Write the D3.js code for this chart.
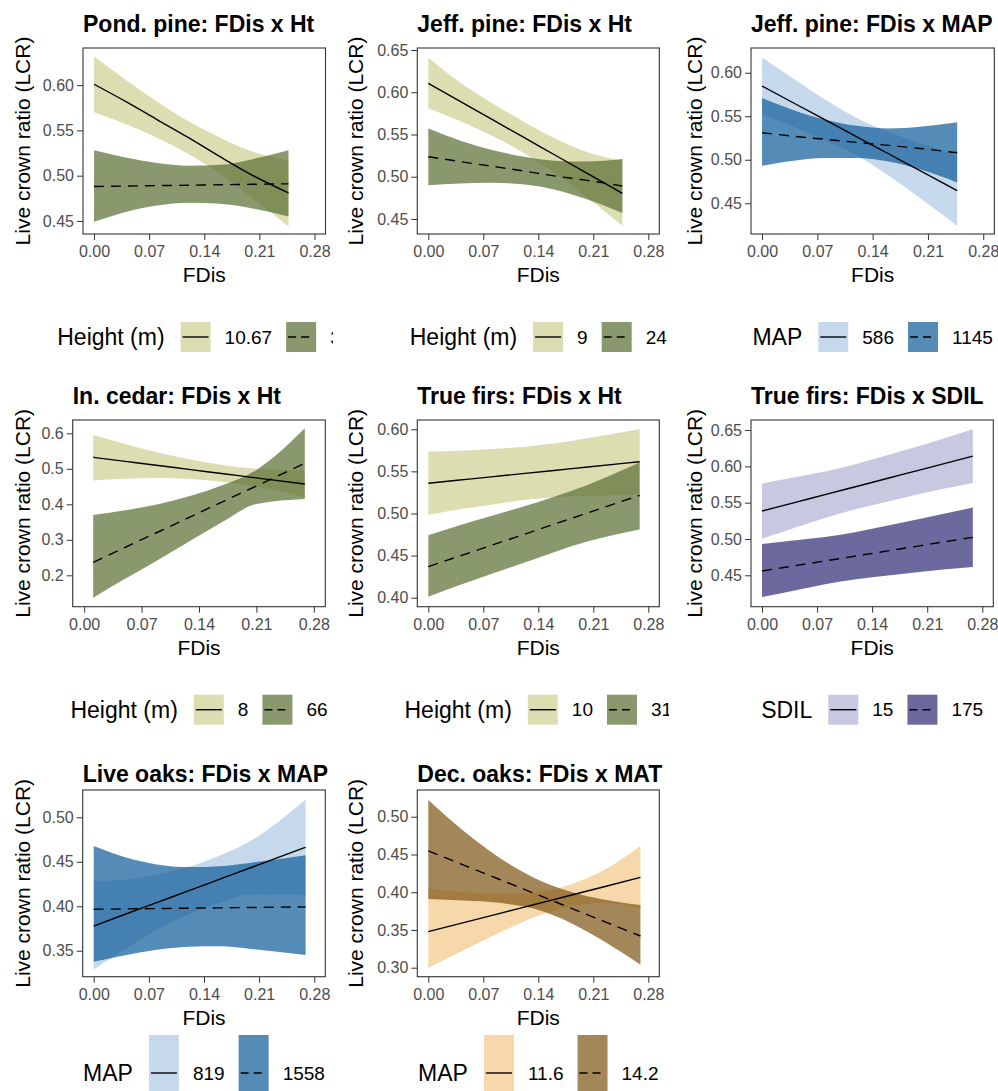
<!DOCTYPE html>
<meta charset="utf-8">
<style>
body { margin: 0; background: #fff; }
text { font-family: "Liberation Sans", Arial, sans-serif; }
.title { font-size: 23px; font-weight: bold; fill: #000; }
.axis-title { font-size: 21px; fill: #000; }
.axis text { font-size: 16px; fill: #4d4d4d; font-family: "Liberation Sans", Arial, sans-serif; }
.axis line { stroke: #333; stroke-width: 1; }
.axis path { display: none; }
.frame { fill: none; stroke: #333; stroke-width: 1.1; }
.fit { fill: none; stroke: #000; stroke-width: 1.4; }
.legend-title { font-size: 23px; fill: #000; }
.legend-label { font-size: 19px; fill: #000; }
</style>
<body>
<script src="https://d3js.org/d3.v7.min.js"></script>
<script>

// ---- data ----
var titles = ["Pond. pine: FDis x Ht", "Jeff. pine: FDis x Ht", "Jeff. pine: FDis x MAP",
              "In. cedar: FDis x Ht", "True firs: FDis x Ht", "True firs: FDis x SDIL",
              "Live oaks: FDis x MAP", "Dec. oaks: FDis x MAT"];
var legendTitles = ["Height (m)", "Height (m)", "MAP", "Height (m)", "Height (m)", "SDIL", "MAP", "MAP"];
var legendLevels = [["10.67", "31"], ["9", "24"], ["586", "1145"], ["8", "66"],
                    ["10", "31"], ["15", "175"], ["819", "1558"], ["11.6", "14.2"]];
var xTicks = [0, 0.07, 0.14, 0.21, 0.28];

// Pond. pine
var pondX    = [0, 0.04, 0.08, 0.12, 0.16, 0.20, 0.247];
var pondFit1 = [0.601, 0.582, 0.562, 0.542, 0.521, 0.501, 0.481];
var pondLo1  = [0.570, 0.557, 0.542, 0.524, 0.502, 0.476, 0.444];
var pondHi1  = [0.632, 0.606, 0.582, 0.560, 0.542, 0.527, 0.516];
var pondFit2 = [0.488, 0.4885, 0.489, 0.4895, 0.490, 0.4905, 0.491];
var pondLo2  = [0.449, 0.460, 0.467, 0.470, 0.469, 0.464, 0.455];
var pondHi2  = [0.528, 0.520, 0.514, 0.511, 0.512, 0.518, 0.528];

// Jeff. pine x Ht
var jhtX    = [0, 0.04, 0.08, 0.12, 0.16, 0.20, 0.247];
var jhtFit1 = [0.6106, 0.5895, 0.5684, 0.5474, 0.5263, 0.5052, 0.4804];
var jhtLo1  = [0.581, 0.566, 0.549, 0.529, 0.505, 0.477, 0.442];
var jhtHi1  = [0.641, 0.612, 0.588, 0.566, 0.546, 0.530, 0.519];
var jhtFit2 = [0.5237, 0.518, 0.5125, 0.507, 0.501, 0.496, 0.489];
var jhtLo2  = [0.490, 0.492, 0.493, 0.491, 0.485, 0.474, 0.457];
var jhtHi2  = [0.557, 0.543, 0.532, 0.524, 0.519, 0.518, 0.521];

// Jeff. pine x MAP
var jmapX    = [0, 0.04, 0.08, 0.12, 0.16, 0.20, 0.247];
var jmapFit1 = [0.5847, 0.5652, 0.5458, 0.5264, 0.5069, 0.4875, 0.4646];
var jmapLo1  = [0.552, 0.538, 0.522, 0.505, 0.482, 0.456, 0.424];
var jmapHi1  = [0.6176, 0.593, 0.569, 0.548, 0.532, 0.519, 0.505];
var jmapFit2 = [0.531, 0.527, 0.5235, 0.520, 0.5165, 0.513, 0.508];
var jmapLo2  = [0.493, 0.499, 0.502, 0.502, 0.498, 0.489, 0.474];
var jmapHi2  = [0.571, 0.557, 0.546, 0.539, 0.536, 0.538, 0.543];

// In. cedar
var cedarX    = [0.011, 0.05, 0.09, 0.13, 0.17, 0.21, 0.269];
var cedarFit1 = [0.5324, 0.521, 0.5094, 0.4977, 0.4861, 0.4744, 0.4572];
var cedarLo1  = [0.467, 0.472, 0.474, 0.471, 0.463, 0.450, 0.420];
var cedarHi1  = [0.595, 0.570, 0.546, 0.526, 0.510, 0.500, 0.495];
var cedarFit2 = [0.2366, 0.279, 0.322, 0.3653, 0.4085, 0.4518, 0.5155];
var cedarLo2  = [0.137, 0.190, 0.243, 0.298, 0.352, 0.401, 0.415];
var cedarHi2  = [0.370, 0.383, 0.400, 0.424, 0.455, 0.497, 0.614];

// True firs x Ht
var firHtX    = [0, 0.04, 0.08, 0.12, 0.16, 0.20, 0.269];
var firHtFit1 = [0.5359, 0.5397, 0.5435, 0.5473, 0.5511, 0.5549, 0.5615];
var firHtLo1  = [0.4983, 0.5049, 0.5105, 0.5156, 0.5192, 0.5208, 0.5226];
var firHtHi1  = [0.5735, 0.5745, 0.5765, 0.579, 0.583, 0.589, 0.6004];
var firHtFit2 = [0.4369, 0.4495, 0.4621, 0.4746, 0.4872, 0.4998, 0.5215];
var firHtLo2  = [0.401, 0.415, 0.428, 0.441, 0.454, 0.466, 0.481];
var firHtHi2  = [0.474, 0.486, 0.497, 0.508, 0.520, 0.533, 0.5605];

// True firs x SDIL
var sdilX    = [0, 0.04, 0.08, 0.12, 0.16, 0.20, 0.268];
var sdilFit1 = [0.5385, 0.5498, 0.561, 0.5723, 0.5836, 0.5949, 0.6141];
var sdilLo1  = [0.5005, 0.5148, 0.529, 0.5413, 0.5516, 0.5619, 0.5771];
var sdilHi1  = [0.5765, 0.5848, 0.593, 0.6033, 0.6156, 0.6279, 0.6511];
var sdilFit2 = [0.456, 0.4629, 0.4698, 0.4767, 0.4836, 0.4906, 0.5023];
var sdilLo2  = [0.420, 0.4289, 0.4378, 0.4447, 0.4496, 0.4546, 0.4613];
var sdilHi2  = [0.493, 0.4979, 0.5028, 0.5097, 0.5186, 0.5276, 0.5433];

// Live oaks x MAP
var liveX    = [0, 0.04, 0.08, 0.12, 0.16, 0.20, 0.269];
var liveFit1 = [0.3778, 0.391, 0.4041, 0.4173, 0.4304, 0.4436, 0.4663];
var liveLo1  = [0.3290, 0.352, 0.3732, 0.3906, 0.4038, 0.4132, 0.4126];
var liveHi1  = [0.428, 0.430, 0.435, 0.444, 0.457, 0.474, 0.520];
var liveFit2 = [0.3966, 0.397, 0.3974, 0.3978, 0.3982, 0.3986, 0.3993];
var liveLo2  = [0.3376, 0.345, 0.351, 0.3545, 0.355, 0.352, 0.3453];
var liveHi2  = [0.4677, 0.455, 0.447, 0.444, 0.445, 0.449, 0.4573];

// Dec. oaks x MAT
var decX    = [0, 0.045, 0.09, 0.135, 0.18, 0.225, 0.27];
var decFit1 = [0.3478, 0.3598, 0.3717, 0.3837, 0.3957, 0.4076, 0.4196];
var decLo1  = [0.2995, 0.323, 0.346, 0.367, 0.381, 0.386, 0.378];
var decHi1  = [0.4045, 0.400, 0.398, 0.400, 0.410, 0.430, 0.4616];
var decFit2 = [0.4548, 0.436, 0.4172, 0.3984, 0.3796, 0.3608, 0.342];
var decLo2  = [0.391, 0.389, 0.386, 0.378, 0.360, 0.334, 0.304];
var decHi2  = [0.522, 0.481, 0.446, 0.419, 0.401, 0.390, 0.383];

// y axis ticks per panel
var yTicks = [[0.45, 0.50, 0.55, 0.60], [0.45, 0.50, 0.55, 0.60, 0.65], [0.45, 0.50, 0.55, 0.60],
              [0.2, 0.3, 0.4, 0.5, 0.6], [0.40, 0.45, 0.50, 0.55, 0.60], [0.45, 0.50, 0.55, 0.60, 0.65],
              [0.35, 0.40, 0.45, 0.50], [0.30, 0.35, 0.40, 0.45, 0.50]];
var yLimits = [[0.4356, 0.641], [0.4322, 0.6524], [0.4147, 0.6284], [0.1116, 0.6375],
               [0.3893, 0.611], [0.4068, 0.6638], [0.3208, 0.5307], [0.2881, 0.5354]];

// ---- colours ----
var htColors   = ["#cdd091", "#586c30"];
var mapColors  = ["#aec9e4", "#0d5a98"];
var sdilColors = ["#b0b0d4", "#2d2a75"];
var matColors  = ["#f2c786", "#7e5413"];
var fillAlpha = 0.7;

// ---- layout ----
var W = 998, H = 1091;
var cols = [[0, 333], [333, 669], [669, 998]];
var rows = [
  {top: 48,  bottom: 234,   titleY: 32,  keyTop: 322,   keyH: 30, keyMid: 337},
  {top: 420, bottom: 606.7, titleY: 404, keyTop: 694.7, keyH: 30, keyMid: 709.7},
  {top: 790, bottom: 976.7, titleY: 782, keyTop: 1035,  keyH: 78, keyMid: 1073}
];
var boxLeft  = [83, 417.3, 751, 72.7, 417.3, 751, 82.7, 417.3];
var boxRight = [325.5, 659.3, 994.3, 325.3, 659.3, 993.3, 325.3, 659.3];
var yTitleX  = [30, 363.3, 701.5];

var panels = [
  {xs: pondX,  fit: [pondFit1, pondFit2],   lo: [pondLo1, pondLo2],   hi: [pondHi1, pondHi2],   colors: htColors},
  {xs: jhtX,   fit: [jhtFit1, jhtFit2],     lo: [jhtLo1, jhtLo2],     hi: [jhtHi1, jhtHi2],     colors: htColors},
  {xs: jmapX,  fit: [jmapFit1, jmapFit2],   lo: [jmapLo1, jmapLo2],   hi: [jmapHi1, jmapHi2],   colors: mapColors},
  {xs: cedarX, fit: [cedarFit1, cedarFit2], lo: [cedarLo1, cedarLo2], hi: [cedarHi1, cedarHi2], colors: htColors},
  {xs: firHtX, fit: [firHtFit1, firHtFit2], lo: [firHtLo1, firHtLo2], hi: [firHtHi1, firHtHi2], colors: htColors},
  {xs: sdilX,  fit: [sdilFit1, sdilFit2],   lo: [sdilLo1, sdilLo2],   hi: [sdilHi1, sdilHi2],   colors: sdilColors},
  {xs: liveX,  fit: [liveFit1, liveFit2],   lo: [liveLo1, liveLo2],   hi: [liveHi1, liveHi2],   colors: mapColors},
  {xs: decX,   fit: [decFit1, decFit2],     lo: [decLo1, decLo2],     hi: [decHi1, decHi2],     colors: matColors}
];

var dashes = ["none", "10,7"];

var svg = d3.select("body").append("svg")
    .attr("width", W)
    .attr("height", H);

var defs = svg.append("defs");
cols.forEach(function(c, i) {
  defs.append("clipPath").attr("id", "col" + i)
    .append("rect").attr("x", c[0]).attr("y", 0).attr("width", c[1] - c[0]).attr("height", H);
});

panels.forEach(function(p, i) {
  var row = rows[Math.floor(i / 3)], col = i % 3;
  var g = svg.append("g").attr("clip-path", "url(#col" + col + ")");

  var x = d3.scaleLinear().domain([-0.014, 0.294]).range([boxLeft[i], boxRight[i]]);
  var y = d3.scaleLinear().domain(yLimits[i]).range([row.bottom, row.top]);

  // one record per level
  var series = [0, 1].map(function(k) {
    return p.xs.map(function(v, j) {
      return {x: v, fit: p.fit[k][j], lo: p.lo[k][j], hi: p.hi[k][j]};
    });
  });

  var area = d3.area()
      .x(function(d) { return x(d.x); })
      .y0(function(d) { return y(d.lo); })
      .y1(function(d) { return y(d.hi); })
      .curve(d3.curveMonotoneX);

  var line = d3.line()
      .x(function(d) { return x(d.x); })
      .y(function(d) { return y(d.fit); })
      .curve(d3.curveMonotoneX);

  g.selectAll(".band")
    .data(series)
    .enter().append("path")
      .attr("class", "band")
      .attr("d", area)
      .style("fill", function(d, k) { return p.colors[k]; })
      .style("fill-opacity", fillAlpha);

  g.selectAll(".fit")
    .data(series)
    .enter().append("path")
      .attr("class", "fit")
      .attr("d", line)
      .style("stroke-dasharray", function(d, k) { return dashes[k]; });

  // axes
  g.append("g")
      .attr("class", "axis")
      .attr("transform", "translate(0," + row.bottom + ")")
      .call(d3.axisBottom(x).tickValues(xTicks).tickFormat(d3.format(".2f"))
        .tickSize(6).tickPadding(6));

  var yfmt = i === 3 ? d3.format(".1f") : d3.format(".2f");
  g.append("g")
      .attr("class", "axis")
      .attr("transform", "translate(" + boxLeft[i] + ",0)")
      .call(d3.axisLeft(y).tickValues(yTicks[i]).tickFormat(yfmt)
        .tickSize(6).tickPadding(3));

  g.append("rect")
      .attr("class", "frame")
      .attr("x", boxLeft[i])
      .attr("y", row.top)
      .attr("width", boxRight[i] - boxLeft[i])
      .attr("height", row.bottom - row.top);

  // texts
  g.append("text")
      .attr("class", "title")
      .attr("x", boxLeft[i])
      .attr("y", row.titleY)
      .text(titles[i]);

  var midX = (boxLeft[i] + boxRight[i]) / 2;
  g.append("text")
      .attr("class", "axis-title")
      .attr("x", midX)
      .attr("y", row.bottom + 48)
      .attr("text-anchor", "middle")
      .text("FDis");

  g.append("text")
      .attr("class", "axis-title")
      .attr("transform", "translate(" + yTitleX[col] + "," + ((row.top + row.bottom) / 2) + ") rotate(-90)")
      .attr("text-anchor", "middle")
      .text("Live crown ratio (LCR)");

  // legend, centred under the panel
  var leg = g.append("g");
  var cursor = 0;
  var lt = leg.append("text")
      .attr("class", "legend-title")
      .attr("x", 0)
      .attr("y", row.keyMid)
      .attr("dy", "0.35em")
      .text(legendTitles[i]);
  cursor += lt.node().getComputedTextLength() + 16;

  legendLevels[i].forEach(function(lab, k) {
    leg.append("rect")
        .attr("x", cursor)
        .attr("y", row.keyTop)
        .attr("width", 30)
        .attr("height", row.keyH)
        .style("fill", p.colors[k])
        .style("fill-opacity", fillAlpha);
    leg.append("line")
        .attr("class", "fit")
        .attr("x1", cursor + 2)
        .attr("x2", cursor + 28)
        .attr("y1", row.keyMid)
        .attr("y2", row.keyMid)
        .style("stroke-dasharray", k ? "8,5" : "none");
    cursor += 44;
    var t = leg.append("text")
        .attr("class", "legend-label")
        .attr("x", cursor)
        .attr("y", row.keyMid)
        .attr("dy", "0.35em")
        .text(lab);
    cursor += t.node().getComputedTextLength() + 14;
  });
  cursor -= 14;
  leg.attr("transform", "translate(" + (midX - cursor / 2) + ",0)");
});

</script>
</body>
